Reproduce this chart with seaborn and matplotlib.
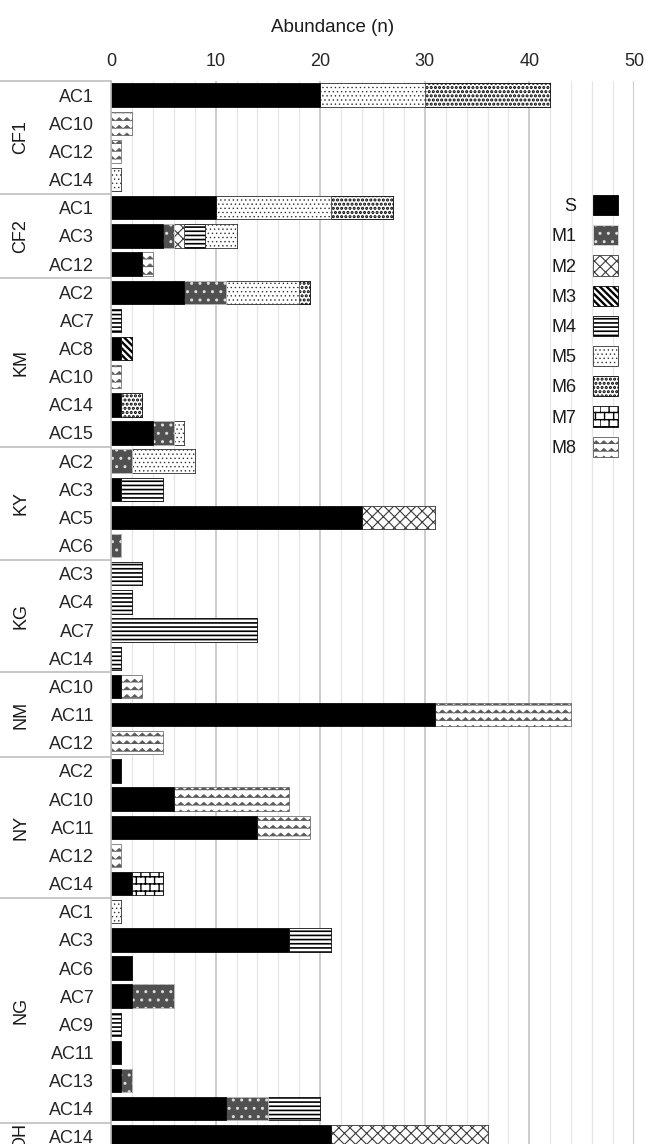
import warnings
import numpy as np
import pandas as pd
import seaborn as sns
import matplotlib.pyplot as plt
import matplotlib.hatch as mhatch
from matplotlib.path import Path
from matplotlib.patches import Patch
from matplotlib.transforms import blended_transform_factory

warnings.filterwarnings("ignore")

# rows of the chart, top to bottom
sites = ["CF1"] * 4 + ["CF2"] * 3 + ["KM"] * 6 + ["KY"] * 4 + ["KG"] * 4 + \
        ["NM"] * 3 + ["NY"] * 5 + ["NG"] * 8 + ["OH"]
stations = ["AC1", "AC10", "AC12", "AC14",
            "AC1", "AC3", "AC12",
            "AC2", "AC7", "AC8", "AC10", "AC14", "AC15",
            "AC2", "AC3", "AC5", "AC6",
            "AC3", "AC4", "AC7", "AC14",
            "AC10", "AC11", "AC12",
            "AC2", "AC10", "AC11", "AC12", "AC14",
            "AC1", "AC3", "AC6", "AC7", "AC9", "AC11", "AC13", "AC14",
            "AC14"]

# abundance per morphotype (same row order)
S  = [20, 0, 0, 0, 10, 5, 3, 7, 0, 1, 0, 1, 4, 0, 1, 24, 0, 0, 0, 0, 0,
      1, 31, 0, 1, 6, 14, 0, 2, 0, 17, 2, 2, 0, 1, 1, 11, 21]
M1 = [0, 0, 0, 0, 0, 1, 0, 4, 0, 0, 0, 0, 2, 2, 0, 0, 1, 0, 0, 0, 0,
      0, 0, 0, 0, 0, 0, 0, 0, 0, 0, 0, 4, 0, 0, 1, 4, 0]
M2 = [0, 0, 0, 0, 0, 1, 0, 0, 0, 0, 0, 0, 0, 0, 0, 7, 0, 0, 0, 0, 0,
      0, 0, 0, 0, 0, 0, 0, 0, 0, 0, 0, 0, 0, 0, 0, 0, 15]
M3 = [0, 0, 0, 0, 0, 0, 0, 0, 0, 1, 0, 0, 0, 0, 0, 0, 0, 0, 0, 0, 0,
      0, 0, 0, 0, 0, 0, 0, 0, 0, 0, 0, 0, 0, 0, 0, 0, 0]
M4 = [0, 0, 0, 0, 0, 2, 0, 0, 1, 0, 0, 0, 0, 0, 4, 0, 0, 3, 2, 14, 1,
      0, 0, 0, 0, 0, 0, 0, 0, 0, 4, 0, 0, 1, 0, 0, 5, 0]
M5 = [10, 0, 0, 1, 11, 3, 0, 7, 0, 0, 0, 0, 1, 6, 0, 0, 0, 0, 0, 0, 0,
      0, 0, 0, 0, 0, 0, 0, 0, 1, 0, 0, 0, 0, 0, 0, 0, 0]
M6 = [12, 0, 0, 0, 6, 0, 0, 1, 0, 0, 0, 2, 0, 0, 0, 0, 0, 0, 0, 0, 0,
      0, 0, 0, 0, 0, 0, 0, 0, 0, 0, 0, 0, 0, 0, 0, 0, 0]
M7 = [0, 0, 0, 0, 0, 0, 0, 0, 0, 0, 0, 0, 0, 0, 0, 0, 0, 0, 0, 0, 0,
      0, 0, 0, 0, 0, 0, 0, 3, 0, 0, 0, 0, 0, 0, 0, 0, 0]
M8 = [0, 2, 1, 0, 0, 0, 1, 0, 0, 0, 1, 0, 0, 0, 0, 0, 0, 0, 0, 0, 0,
      2, 13, 5, 0, 11, 5, 1, 0, 0, 0, 0, 0, 0, 0, 0, 0, 0]

series = ["S", "M1", "M2", "M3", "M4", "M5", "M6", "M7", "M8"]
values = [S, M1, M2, M3, M4, M5, M6, M7, M8]


# extra hatch patterns: zigzag ('z') and bricks ('b')
class ZigZagHatch(mhatch.HatchPatternBase):
    def __init__(self, hatch, density):
        self.n = hatch.count("z") * 13
        self.k = 2 * self.n + 1
        self.num_vertices = self.n * self.k

    def set_vertices_and_codes(self, vertices, codes):
        n, k = self.n, self.k
        xs = np.linspace(0, 1, k)
        amp = 0.22 / n
        for i in range(n):
            ys = (i + 0.5) / n + np.where(np.arange(k) % 2 == 0, -amp, amp)
            vertices[i * k:(i + 1) * k, 0] = xs
            vertices[i * k:(i + 1) * k, 1] = ys
            codes[i * k] = Path.MOVETO
            codes[i * k + 1:(i + 1) * k] = Path.LINETO


class BrickHatch(mhatch.HatchPatternBase):
    def __init__(self, hatch, density):
        c = hatch.count("b")
        self.rows = 14 * c
        self.cols = 11 * c
        self.num_vertices = 2 * self.rows + 2 * self.rows * self.cols

    def set_vertices_and_codes(self, vertices, codes):
        r, c = self.rows, self.cols
        pts = []
        for i in range(r):
            y = (i + 0.25) / r
            pts += [(0, y), (1, y)]
            off = 0.5 / c if i % 2 else 0.0
            for j in range(c):
                x = j / c + off
                pts += [(x, y), (x, y + 1.0 / r)]
        vertices[:] = pts
        codes[0::2] = Path.MOVETO
        codes[1::2] = Path.LINETO


mhatch._hatch_types.extend([ZigZagHatch, BrickHatch])

# facecolor, hatch colour, hatch, hatch linewidth
styles = {
    "S":  ("black", "black", None, 1.0),
    "M1": ("#505050", "#dcdcdc", "..", 1.0),
    "M2": ("white", "#3c3c3c", "xxx", 0.8),
    "M3": ("white", "black", "\\" * 5, 1.7),
    "M4": ("white", "black", "----", 1.2),
    "M5": ("white", "#333333", "....", 0.5),
    "M6": ("white", "black", "....", 1.5),
    "M7": ("white", "black", "b", 1.0),
    "M8": ("white", "#5a5a5a", "z", 0.45),
}


def set_hlw(patch, w):
    if hasattr(patch, "set_hatch_linewidth"):
        patch.set_hatch_linewidth(w)
    else:
        patch._hatch_linewidth = w


df = pd.DataFrame({"site": sites, "station": stations})
df["row"] = [f"{s}|{a}" for s, a in zip(sites, stations)]
cum = np.zeros(len(df))
for name, vals in zip(series, values):
    cum = cum + np.array(vals, dtype=float)
    df["cum_" + name] = np.where(cum > 0, cum, np.nan)

sns.set_theme(style="white")
plt.rcParams["font.family"] = ["Liberation Sans", "DejaVu Sans"]
plt.rcParams["text.color"] = "#1a1a1a"

fig = plt.figure(figsize=(6.46, 11.44), dpi=100)
ax = fig.add_axes([111 / 646, 0, 523 / 646, 1 - 81 / 1144])

# stacked bars: draw cumulative totals from the last segment to the first
for name in reversed(series):
    face, hcol, hatch, hlw = styles[name]
    plt.rcParams["hatch.linewidth"] = hlw
    sns.barplot(data=df, x="cum_" + name, y="row", orient="h", color=face,
                saturation=1, edgecolor=hcol, hatch=hatch, linewidth=0.5,
                width=0.83, errorbar=None, ax=ax)
    for p in ax.containers[-1]:
        set_hlw(p, hlw)

ax.set_xlim(0, 50)
ax.set_ylim(37.25, -0.5)
ax.set_xlabel("")
ax.set_ylabel("")
ax.xaxis.tick_top()
ax.set_xticks(range(0, 51, 10))
ax.set_xticks(range(0, 51, 2), minor=True)
ax.grid(axis="x", which="major", color="#c4c4c4", linewidth=1.2)
ax.grid(axis="x", which="minor", color="#e6e6e6", linewidth=0.9)
ax.set_axisbelow(True)
ax.set_yticks(range(len(stations)))
ax.set_yticklabels(stations)
ax.tick_params(axis="y", which="both", length=0, pad=12, labelsize=13)
ax.tick_params(axis="x", which="both", length=0, pad=8, labelsize=13)
for side in ["top", "right", "bottom"]:
    ax.spines[side].set_visible(False)
ax.spines["left"].set_color("#bfbfbf")
ax.spines["left"].set_linewidth(1.2)

# site group labels and separators
trans = blended_transform_factory(ax.transAxes, ax.transData)
groups = list(dict.fromkeys(sites))
start = 0
for g in groups:
    n = sites.count(g)
    ax.plot([-0.215, 0], [start - 0.5, start - 0.5], color="#bfbfbf",
            linewidth=1.2, transform=trans, clip_on=False)
    ax.text(-0.172, start + (n - 1) / 2, g, rotation=90, ha="center",
            va="center", fontsize=13, transform=trans, clip_on=False)
    start += n

fig.text(333 / 646, 1 - 27 / 1144, "Abundance (n)", ha="center",
         va="center", fontsize=13.5)

handles = [Patch(facecolor=styles[n][0], edgecolor=styles[n][1],
                 hatch=styles[n][2], linewidth=0.6) for n in series]
leg = fig.legend(handles, series, loc="upper right", frameon=False,
                 markerfirst=False, fontsize=13, handlelength=1.4,
                 handleheight=1.35, labelspacing=0.55, handletextpad=0.9,
                 borderpad=0, borderaxespad=0,
                 bbox_to_anchor=(618 / 646, 1 - 195 / 1144),
                 bbox_transform=fig.transFigure)
for p, n in zip(leg.get_patches(), series):
    set_hlw(p, styles[n][3])

fig.savefig("out.png", dpi=100)
